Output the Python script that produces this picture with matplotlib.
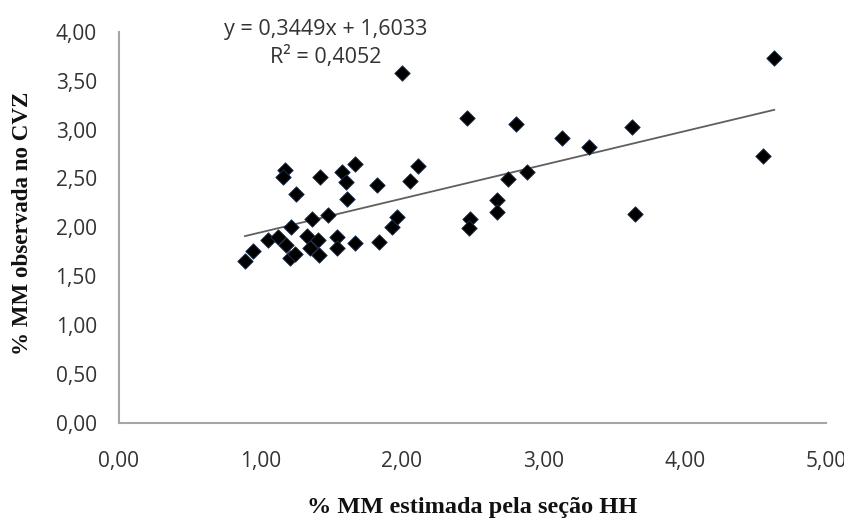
import matplotlib
matplotlib.use("Agg")
import matplotlib.pyplot as plt
from matplotlib.ticker import FuncFormatter, MultipleLocator
import numpy as np

# Data
x_est = [0.891, 0.950, 1.056, 1.127, 1.181, 1.209, 1.245, 1.174, 1.162, 1.252,
         1.216, 1.332, 1.363, 1.409, 1.351, 1.414, 1.421, 1.480, 1.540, 1.544,
         1.577, 1.605, 1.669, 1.610, 1.669, 1.822, 1.841, 1.929, 1.964, 2.058,
         2.112, 1.999, 2.459, 2.808, 3.131, 3.326, 3.630, 2.888, 2.753, 4.634,
         4.552, 2.671, 2.675, 2.482, 2.477, 3.649]
y_obs = [1.660, 1.759, 1.871, 1.905, 1.820, 1.684, 1.728, 2.587, 2.512, 2.338,
         2.007, 1.912, 2.083, 1.871, 1.786, 1.718, 2.518, 2.127, 1.899, 1.786,
         2.570, 2.467, 2.648, 2.287, 1.844, 2.434, 1.854, 2.007, 2.103, 2.478,
         2.628, 3.576, 3.116, 3.054, 2.911, 2.825, 3.030, 2.570, 2.492, 3.729,
         2.733, 2.280, 2.161, 2.086, 1.997, 2.137]

slope = 0.3449
intercept = 1.6033
r2 = 0.4052

x_label = "% MM estimada pela seção HH"
y_label = "% MM observada no CVZ"

fig = plt.figure(figsize=(8.45, 5.2), dpi=100)
ax = fig.add_axes([0.1408, 0.1865, 0.8367, 0.7525])

ax.scatter(x_est, y_obs, marker="D", s=62, color="black",
           edgecolors="#1f3350", linewidths=0.6, zorder=3)

xs = np.array([min(x_est), max(x_est)])
ax.plot(xs, slope * xs + intercept, color="#5f5f5f", lw=1.3, zorder=2)

ax.set_xlim(0, 5)
ax.set_ylim(0, 4)
ax.xaxis.set_major_locator(MultipleLocator(1))
ax.yaxis.set_major_locator(MultipleLocator(0.5))
fmt = FuncFormatter(lambda v, p: f"{v:.2f}".replace(".", ","))
ax.xaxis.set_major_formatter(fmt)
ax.yaxis.set_major_formatter(fmt)

for s in ["top", "right"]:
    ax.spines[s].set_visible(False)
for s in ["left", "bottom"]:
    ax.spines[s].set_color("#a6a6a6")
    ax.spines[s].set_linewidth(1.5)

ax.tick_params(axis="both", length=0, labelsize=15, colors="#333333")
ax.tick_params(axis="y", pad=16)
ax.tick_params(axis="x", pad=20)
for lab in ax.get_xticklabels() + ax.get_yticklabels():
    lab.set_fontfamily("Open Sans")

ax.set_xlabel(x_label, fontfamily="Liberation Serif", fontweight="bold",
              fontsize=17.5, color="#111111")
ax.set_ylabel(y_label, fontfamily="Liberation Serif", fontweight="bold",
              fontsize=16.6, color="#111111")
ax.xaxis.set_label_coords(0.499, -0.215)
ax.yaxis.set_label_coords(-0.137, 0.51)
ax.xaxis.label.set_va("center")
ax.yaxis.label.set_va("center")

eq = f"y = {slope:.4f}x + {intercept:.4f}".replace(".", ",") + "\n" + \
     f"R² = {r2:.4f}".replace(".", ",")
ax.text(1.464, 3.88, eq, ha="center", va="center", multialignment="center",
        fontsize=15.5, fontfamily="Open Sans", color="#333333",
        linespacing=1.3, clip_on=False)

fig.savefig("out.png", dpi=100, facecolor="white")
